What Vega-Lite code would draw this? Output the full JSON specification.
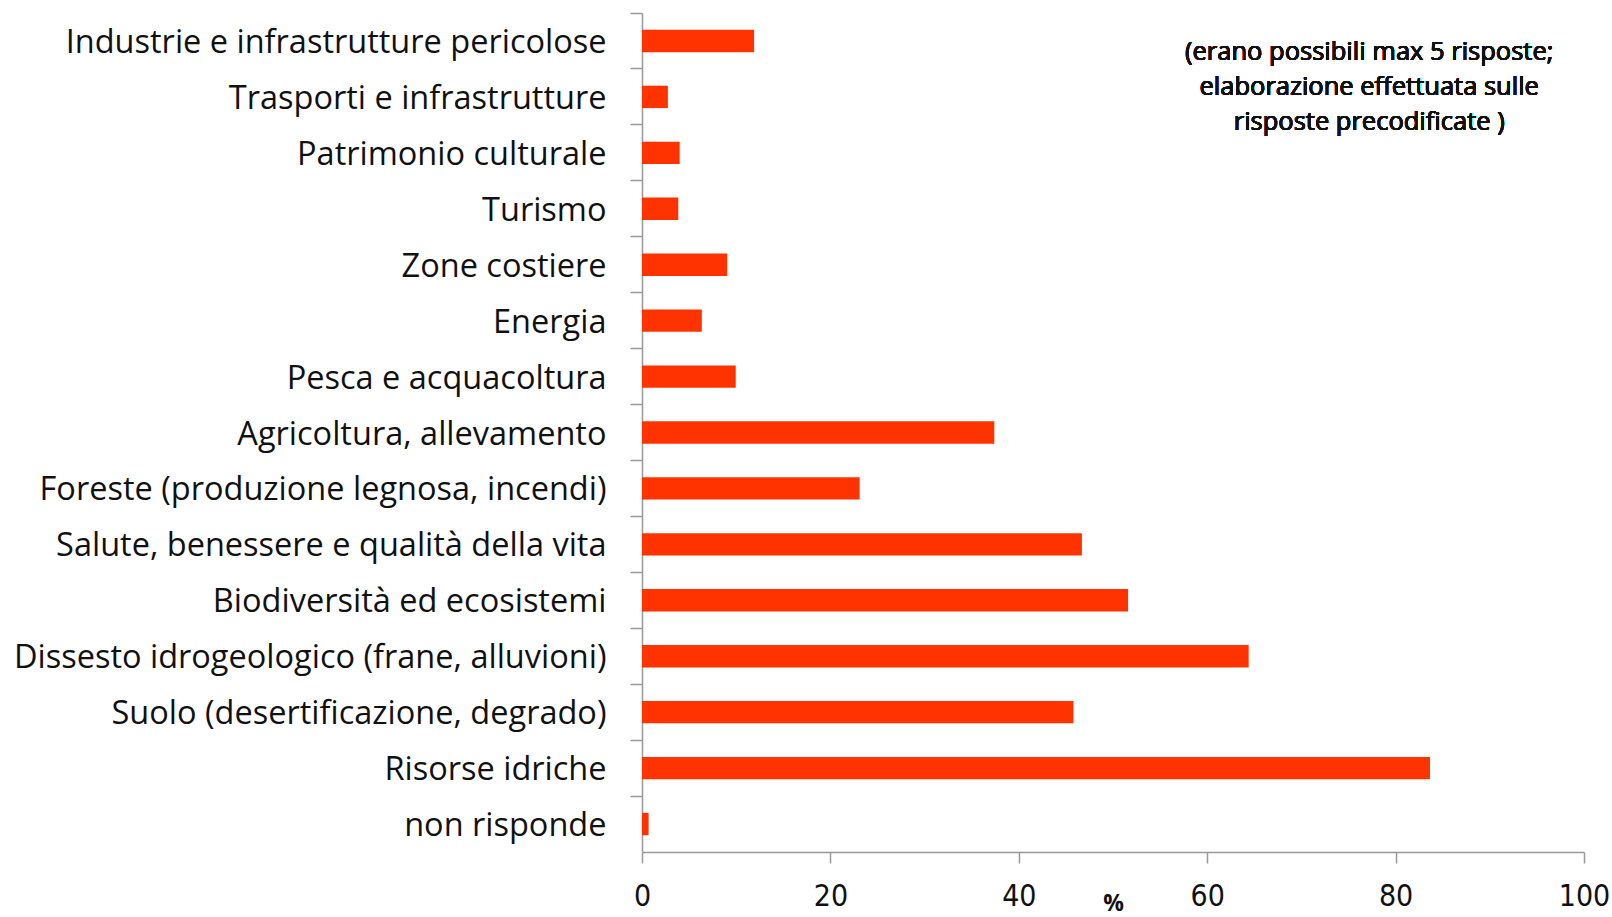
{
  "$schema": "https://vega.github.io/schema/vega-lite/v6.json",
  "width": 942,
  "height": 839,
  "autosize": "none",
  "padding": {"left": 642, "top": 13, "right": 28, "bottom": 65},
  "background": "white",
  "config": {"view": {"stroke": null}},
  "data": {
    "values": [
      {"categoria": "Industrie e infrastrutture pericolose", "valore": 11.9},
      {"categoria": "Trasporti e infrastrutture", "valore": 2.75},
      {"categoria": "Patrimonio culturale", "valore": 4.0},
      {"categoria": "Turismo", "valore": 3.85},
      {"categoria": "Zone costiere", "valore": 9.05},
      {"categoria": "Energia", "valore": 6.35},
      {"categoria": "Pesca e acquacoltura", "valore": 9.95},
      {"categoria": "Agricoltura, allevamento", "valore": 37.4},
      {"categoria": "Foreste (produzione legnosa, incendi)", "valore": 23.1},
      {"categoria": "Salute, benessere e qualità della vita", "valore": 46.7},
      {"categoria": "Biodiversità ed ecosistemi", "valore": 51.6},
      {"categoria": "Dissesto idrogeologico (frane, alluvioni)", "valore": 64.4},
      {"categoria": "Suolo (desertificazione, degrado)", "valore": 45.8},
      {"categoria": "Risorse idriche", "valore": 83.65},
      {"categoria": "non risponde", "valore": 0.7}
    ]
  },
  "layer": [
    {
      "mark": {"type": "bar", "color": "#FF3300", "height": {"band": 0.4}},
      "encoding": {
        "y": {
          "field": "categoria",
          "type": "nominal",
          "sort": null,
          "scale": {"paddingInner": 0, "paddingOuter": 0},
          "axis": {
            "title": null,
            "bandPosition": 0,
            "domainColor": "#999999",
            "domainWidth": 1.5,
            "tickColor": "#999999",
            "tickWidth": 1.5,
            "tickSize": 12,
            "labelPadding": 24,
            "labelFont": "Open Sans",
            "labelFontSize": 32.5,
            "labelColor": "#111111",
            "labelLimit": 700,
            "labelBaseline": "middle",
            "labelOffset": 2
          }
        },
        "x": {
          "field": "valore",
          "type": "quantitative",
          "scale": {"domain": [0, 100], "nice": false},
          "axis": {
            "title": "%",
            "titleFont": "Open Sans",
            "titleFontSize": 23,
            "titleFontWeight": "bold",
            "titleColor": "#111111",
            "titlePadding": -19,
            "values": [0, 20, 40, 60, 80, 100],
            "grid": false,
            "domainColor": "#999999",
            "domainWidth": 1.5,
            "tickColor": "#999999",
            "tickWidth": 1.5,
            "tickSize": 11,
            "labelPadding": 18,
            "labelFont": "'Liberation Sans Narrow', 'DejaVu Sans Condensed', 'Open Sans', sans-serif",
            "labelFontSize": 30,
            "labelColor": "#111111",
            "labelFlush": false
          }
        }
      }
    },
    {
      "mark": {
        "type": "text",
        "font": "Open Sans",
        "fontSize": 25.5,
        "fontWeight": "normal",
        "align": "center",
        "baseline": "top",
        "lineHeight": 35,
        "color": "#111111",
        "dy": -1,
        "text": ["(erano possibili max 5 risposte;", "elaborazione effettuata sulle", "risposte precodificate )"]
      },
      "encoding": {
        "x": {"datum": 77.2},
        "y": {"datum": "Industrie e infrastrutture pericolose"}
      }
    }
  ]
}
